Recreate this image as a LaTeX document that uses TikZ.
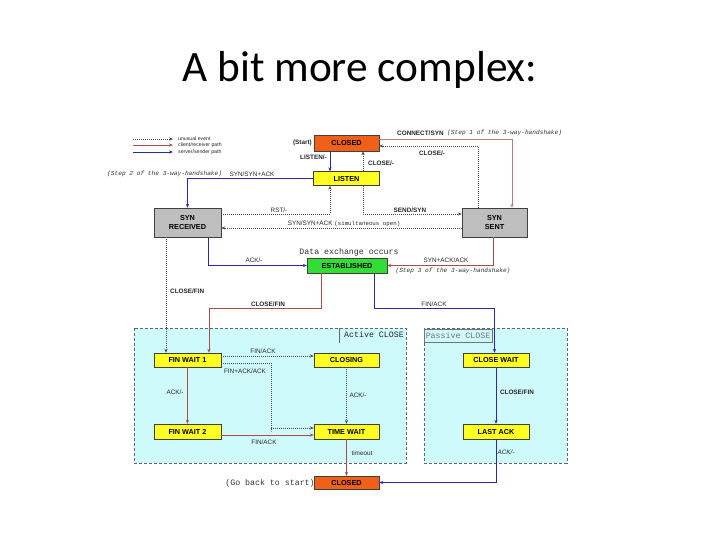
\documentclass[tikz,border=0pt]{standalone}
\usepackage{fontspec}
\setmainfont{Liberation Sans}
\setmonofont{Liberation Mono}
\newfontfamily\titlefont{Carlito}
\usetikzlibrary{arrows.meta,calc}
\definecolor{closedc}{HTML}{F06018}
\definecolor{yellowc}{HTML}{FFFF22}
\definecolor{grayc}{HTML}{BEBEBE}
\definecolor{greenc}{HTML}{33DD33}
\definecolor{cyanbg}{HTML}{CFFAFC}
\definecolor{redc}{HTML}{A84C4C}
\definecolor{bluec}{HTML}{2A2AA8}
\begin{document}
\begin{tikzpicture}[x=1bp,y=-1bp,
  st/.style={draw=black!75, line width=0.4pt, font=\fontsize{7.3}{8.3}\selectfont\bfseries, inner sep=0pt, align=center, minimum width=66bp, minimum height=15bp},
  lbl/.style={font=\fontsize{6.4}{7}\selectfont, inner sep=0pt, text=black!85},
  blbl/.style={lbl, font=\fontsize{6.4}{7}\selectfont\bfseries},
  mlbl/.style={inner sep=0pt, text=black!80, font=\fontsize{6.2}{7}\selectfont\ttfamily\itshape},
  tlbl/.style={inner sep=0pt, text=black!80, font=\fontsize{8.3}{9}\selectfont\ttfamily},
  unus/.style={draw=black!70, line width=0.6pt, dash pattern=on 0.8bp off 1.2bp, -{Stealth[length=4bp,width=3.2bp]}},
  cli/.style={draw=redc, line width=0.8pt, -{Stealth[length=4bp,width=3.2bp]}},
  srv/.style={draw=bluec, line width=1pt, -{Stealth[length=4bp,width=3.2bp]}},
  region/.style={fill=cyanbg, draw=black!60, line width=0.5pt, dash pattern=on 3bp off 2bp}
]
\useasboundingbox (0,0) rectangle (720,540);
% title
\node[font=\titlefont\fontsize{43.5}{50}\selectfont, anchor=base, inner sep=0pt] (title) at (360,82) {A bit more complex:};

% regions
\path[region] (134,328) rectangle (406,463);
\path[region] (424,328) rectangle (567,463);
\draw[black!60, line width=0.5pt] (339,328) -- (339,343);
\node[tlbl, anchor=center, text=black!85] (activelbl) at (374,335) {Active CLOSE};
\draw[black!55, line width=0.4pt] (424,329) rectangle (492,342);
\node[tlbl, anchor=center, text=black!55] (passivelbl) at (458,335.5) {Passive CLOSE};

% states
\node[st, fill=closedc, minimum height=16bp, minimum width=65bp] (closed) at (346.5,143) {CLOSED};
\node[st, fill=yellowc, minimum height=14bp] (listen) at (346.5,178.5) {LISTEN};
\node[st, fill=grayc, minimum width=67bp, minimum height=29bp] (synrcvd) at (187.5,222.5) {SYN\\RECEIVED};
\node[st, fill=grayc, minimum width=65bp, minimum height=29bp] (synsent) at (494.5,222.5) {SYN\\SENT};
\node[st, fill=greenc, minimum width=80bp, minimum height=15bp] (established) at (347,265.5) {ESTABLISHED};
\node[st, fill=yellowc, minimum width=67bp, minimum height=14bp] (finwait1) at (187.5,360) {FIN WAIT 1};
\node[st, fill=yellowc, minimum width=65bp, minimum height=14bp] (closing) at (346.5,360) {CLOSING};
\node[st, fill=yellowc, minimum width=66bp, minimum height=14bp] (closewait) at (496,360) {CLOSE WAIT};
\node[st, fill=yellowc, minimum width=67bp, minimum height=15bp] (finwait2) at (187.5,431.5) {FIN WAIT 2};
\node[st, fill=yellowc, minimum width=65bp, minimum height=15bp] (timewait) at (346.5,431.5) {TIME WAIT};
\node[st, fill=yellowc, minimum width=66bp, minimum height=15bp] (lastack) at (496,431.5) {LAST ACK};
\node[st, fill=closedc, minimum width=65bp, minimum height=13bp] (closed2) at (346.5,482.5) {CLOSED};

% legend
\coordinate (lg1a) at (133,139); \coordinate (lg1b) at (173,139);
\coordinate (lg2a) at (133,145); \coordinate (lg2b) at (173,145);
\coordinate (lg3a) at (133,152); \coordinate (lg3b) at (173,152);
\draw[unus] (lg1a) -- (lg1b);
\draw[cli] (lg2a) -- (lg2b);
\draw[srv] (lg3a) -- (lg3b);
\node[lbl, anchor=west, font=\fontsize{5.2}{6}\selectfont] (lgt1) at (178,139) {unusual event};
\node[lbl, anchor=west, font=\fontsize{5.2}{6}\selectfont] (lgt2) at (178,145) {client/receiver path};
\node[lbl, anchor=west, font=\fontsize{5.2}{6}\selectfont] (lgt3) at (178,152) {server/sender path};

% helper coordinates
\coordinate (estbranch) at (0,308);
\coordinate (fabranch) at (271,0);

% connectors
\draw[srv] ([xshift=-16.5bp]closed.south) -- ([xshift=-16.5bp]listen.north);
\draw[unus] ([xshift=16.5bp]listen.north) -- ([xshift=16.5bp]closed.south);
\draw[cli, draw=redc!75] ([yshift=4bp]closed.east) -| ([xshift=17.5bp]synsent.north);
\draw[unus] ([xshift=-16.5bp]synsent.north) |- ([yshift=-3bp]closed.east);
\draw[srv] (listen.west) -| (synrcvd.north);
\draw[unus] ([yshift=8.5bp]synrcvd.east) -| ([xshift=-16.5bp]listen.south);
\draw[unus] ([xshift=16.5bp]listen.south) |- ([yshift=8.5bp]synsent.west);
\draw[unus] ([yshift=-5.5bp]synsent.west) -- ([yshift=-5.5bp]synrcvd.east);
\draw[srv] ([xshift=20.5bp]synrcvd.south) |- (established.west);
\draw[cli] ([xshift=-1.5bp]synsent.south) |- (established.east);
\draw[unus] ([xshift=-21.5bp]synrcvd.south) -- ([xshift=-21.5bp]finwait1.north);
\draw[cli] ([xshift=-26bp]established.south) -- ([xshift=-26bp]established.south |- estbranch) -| ([xshift=21.5bp]finwait1.north);
\draw[srv] ([xshift=27bp]established.south) -- ([xshift=27bp]established.south |- estbranch) -| ([xshift=-1.5bp]closewait.north);
\draw[unus] ([yshift=4bp]finwait1.east) -- ([yshift=4bp]closing.west);
\draw[unus] ([yshift=-3bp]finwait1.east) -| (fabranch |- timewait.west) -- ([yshift=3.5bp]timewait.west -| fabranch) -- ([yshift=3.5bp]timewait.west);
\draw[cli] (finwait1.south) -- (finwait2.north);
\draw[unus] (closing.south) -- (timewait.north);
\draw[cli] ([yshift=-3.5bp]finwait2.east) -- ([yshift=-3.5bp]timewait.west);
\draw[cli] (timewait.south) -- (closed2.north);
\draw[srv] (closewait.south) -- (lastack.north);
\draw[srv] (lastack.south) |- (closed2.east);

% labels
\node[blbl, anchor=east] (startl) at (312,143) {(Start)};
\node[blbl, anchor=east] (listenl) at (327,157) {LISTEN/-};
\node[blbl, anchor=west] (closel1) at (368,163) {CLOSE/-};
\node[blbl, anchor=west] (connectl) at (397,133) {CONNECT/SYN};
\node[mlbl, anchor=west] (step1) at (447,133) {(Step 1 of the 3-way-handshake)};
\node[blbl] (closel2) at (432,153) {CLOSE/-};
\node[mlbl, anchor=west] (step2) at (107,174) {(Step 2 of the 3-way-handshake)};
\node[lbl] (synsynack) at (252,174) {SYN/SYN+ACK};
\node[lbl] (rstl) at (279,210) {RST/-};
\node[blbl] (sendl) at (410,210) {SEND/SYN};
\node[lbl] (simul) at (344,224) {SYN/SYN+ACK {\fontsize{5.8}{7}\selectfont\ttfamily (simultaneous open)}};
\node[tlbl, text=black!80] (dataex) at (349,252) {Data exchange occurs};
\node[lbl] (ackl1) at (254,260) {ACK/-};
\node[lbl] (synackl) at (446,260) {SYN+ACK/ACK};
\node[mlbl] (step3) at (453,271) {(Step 3 of the 3-way-handshake)};
\node[blbl, anchor=west] (closefin1) at (170,291) {CLOSE/FIN};
\node[blbl] (closefin2) at (268,304) {CLOSE/FIN};
\node[lbl] (finackl1) at (434,304) {FIN/ACK};
\node[lbl] (finackl2) at (263,351) {FIN/ACK};
\node[lbl] (finackack) at (245,371) {FIN+ACK/ACK};
\node[lbl] (ackl2) at (175,392) {ACK/-};
\node[lbl] (ackl3) at (358,395) {ACK/-};
\node[blbl] (closefin3) at (517,392) {CLOSE/FIN};
\node[lbl] (finackl3) at (264,442) {FIN/ACK};
\node[lbl] (timeoutl) at (362,453) {timeout};
\node[lbl, font=\fontsize{6.4}{7}\selectfont\itshape] (ackl4) at (506,452) {ACK/-};
\node[tlbl] (goback) at (270,483) {(Go back to start)};
\end{tikzpicture}
\end{document}
